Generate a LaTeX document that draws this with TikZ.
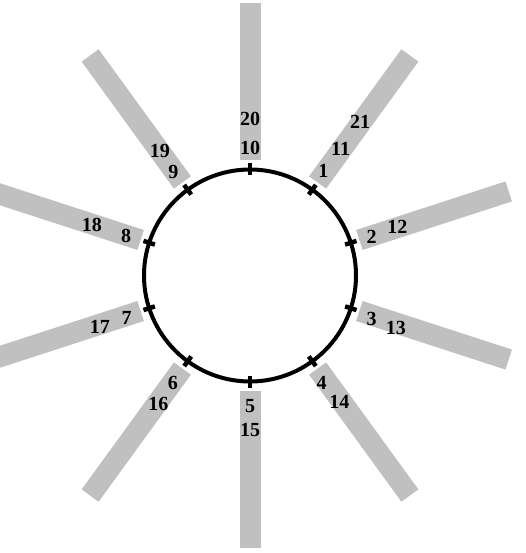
\documentclass[tikz,border=0pt]{standalone}
\usepackage{fontspec}
\setmainfont{Liberation Serif}
\usepackage{tikz}
\usetikzlibrary{positioning,calc}
\definecolor{bargray}{RGB}{192,192,192}

\begin{document}
\begin{tikzpicture}[x=1pt, y=1pt,
    bar/.style={line width=21pt, bargray, line cap=butt},
    ring/.style={line width=4pt, black},
    tick/.style={line width=4.5pt, black},
    num/.style={font=\fontsize{20}{20}\selectfont\bfseries, inner sep=0pt}
]
    \useasboundingbox (-250,-277.5) rectangle (276,275.5);
    \clip (-250,-277.5) rectangle (276,275.5);

    % spokes
    \foreach \a in {90,54,18,-18,-54,-90,-126,-162,162,126}
        \draw[bar] (\a:115) -- (\a:272);

    % ring with ticks
    \draw[ring] (0,0) circle (106);
    \foreach \a in {90,54,18,-18,-54,-90,-126,-162,162,126}
        \draw[tick] (\a:100) -- (\a:112);

    % inner numbers
    \foreach \n/\a/\r in {1/55/128, 2/17.7/127.7, 3/-19.8/129.3, 4/-56.4/129.5,
        5/-90/130.2, 6/-125.8/132, 7/-160.9/130.5, 8/162.3/130, 9/126.5/129, 10/90/127.2}
        \node[num] (l\n) at (\a:\r) {\n};

    % outer numbers
    \foreach \n/\a/\r in {11/54.3/155.4, 12/18.1/155, 13/-19.7/155, 14/-54.7/154.6,
        15/-90/154.5, 16/-125.5/157.9, 17/-161.2/158.5, 18/162.3/166, 19/125.8/153.9,
        20/90/157, 21/54.4/189}
        \node[num] (l\n) at (\a:\r) {\n};
\end{tikzpicture}
\end{document}
